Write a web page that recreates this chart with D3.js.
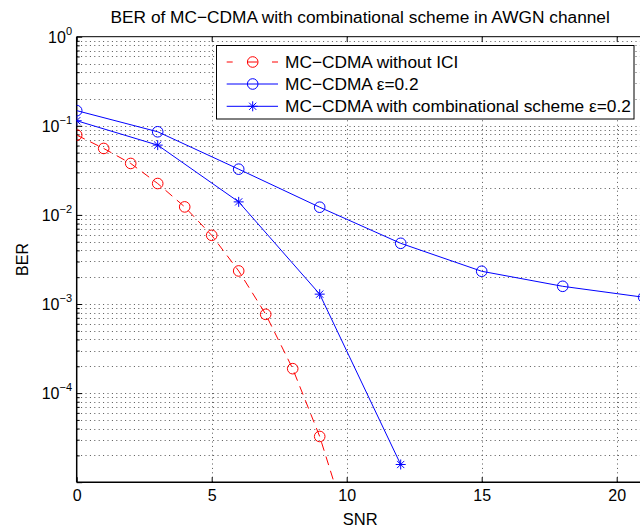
<!DOCTYPE html>
<html><head><meta charset="utf-8">
<script src="https://cdn.jsdelivr.net/npm/d3@7"></script>
<style>
html,body{margin:0;padding:0;background:#fff;}
svg{display:block;font-family:"Liberation Sans",Arial,Helvetica,sans-serif;}
</style></head>
<body>
<svg id="chart" width="640" height="531"></svg>
<script>
// ---- data ----
const titleText = "BER of MC\u2212CDMA with combinational scheme in AWGN channel";
const xLabel = "SNR";
const yLabel = "BER";
const seriesNames = ["MC\u2212CDMA without ICI", "MC\u2212CDMA \u03b5=0.2", "MC\u2212CDMA with combinational scheme \u03b5=0.2"];
const snrNoICI = [0,1,2,3,4,5,6,7,8,9,10];
const berNoICI = [0.0787,0.0557,0.0378,0.0225,0.0123,0.0059,0.00235,0.000766,0.000188,3.26e-5,3.5e-6];
const snrEps = [0,3,6,9,12,15,18,21];
const berEps = [0.148,0.0857,0.0326,0.0122,0.0048,0.00233,0.00158,0.00119];
const snrComb = [0,3,6,9,12];
const berComb = [0.114,0.0607,0.014,0.00129,1.58e-5];
const xTicks = [0,5,10,15,20];
const yTickExps = [0,-1,-2,-3,-4];

// ---- layout ----
const L = 76.7, T = 36.7, W = 567, H = 445.5;
const svg = d3.select("#chart");
const x = d3.scaleLinear().domain([0,21]).range([L, L+W]);
const y = d3.scaleLog().domain([1e-5,1]).range([T+H, T]);

svg.append("defs").append("clipPath").attr("id","clip")
  .append("rect").attr("x",L).attr("y",T).attr("width",W).attr("height",H);

// grid
const gridStyle = g => g.attr("stroke","#555").attr("stroke-width",1).attr("stroke-dasharray","1,3.4").attr("fill","none");
const minorVals = [];
for (let e=-5;e<0;e++) for (let m=1;m<10;m++) minorVals.push(m*Math.pow(10,e));
minorVals.push(1);
const grid = svg.append("g").call(gridStyle);
grid.selectAll("line.h").data(minorVals.filter(v=>v>1e-5 && v<1)).enter().append("line")
  .attr("x1",L).attr("x2",L+W).attr("y1",d=>Math.round(y(d))+0.5).attr("y2",d=>Math.round(y(d))+0.5);
grid.selectAll("line.v").data(xTicks.filter(v=>v>0)).enter().append("line")
  .attr("y1",T).attr("y2",T+H).attr("x1",d=>Math.round(x(d))+0.5).attr("x2",d=>Math.round(x(d))+0.5);

// axes
const xAxis = d3.axisBottom(x).tickValues(xTicks).tickSizeInner(-5).tickSizeOuter(0).tickPadding(10);
const gx = svg.append("g").attr("transform",`translate(0,${T+H})`).call(xAxis);
gx.select(".domain").remove();
gx.selectAll("text").attr("font-size",16).attr("font-family","Liberation Sans, Arial, sans-serif").attr("fill","#000").attr("dy","0.55em");
gx.selectAll("line").attr("stroke","#000");
const gxTop = svg.append("g").attr("transform",`translate(0,${T})`).call(d3.axisTop(x).tickValues(xTicks).tickSizeInner(-5).tickSizeOuter(0).tickFormat(""));
gxTop.select(".domain").remove();
gxTop.selectAll("line").attr("stroke","#000");

const gy = svg.append("g").attr("transform",`translate(${L},0)`)
  .call(d3.axisLeft(y).tickValues(minorVals).tickSizeInner(-3).tickSizeOuter(0).tickFormat(""));
gy.select(".domain").remove();
gy.selectAll(".tick line").attr("stroke","#000").attr("x2",d=>[1,0.1,0.01,0.001,1e-4,1e-5].some(v=>Math.abs(v-d)/v<1e-9)?5.5:3);

// y tick labels 10^e
const yl = svg.append("g");
yTickExps.forEach(e=>{
  const t = yl.append("text").attr("x",72).attr("y",y(Math.pow(10,e))+6)
    .attr("text-anchor","end").attr("font-size",16).attr("fill","#000");
  t.append("tspan").text("10");
  t.append("tspan").attr("dy",-8).attr("font-size",11).text(e===0?"0":"\u2212"+(-e));
});

// frame lines
svg.append("line").attr("x1",L).attr("x2",L).attr("y1",T).attr("y2",T+H).attr("stroke","#000").attr("stroke-width",1.5);
svg.append("line").attr("x1",L).attr("x2",L+W).attr("y1",T+H).attr("y2",T+H).attr("stroke","#000").attr("stroke-width",1.5);
svg.append("line").attr("x1",L).attr("x2",L+W).attr("y1",T).attr("y2",T).attr("stroke","#000").attr("stroke-width",1);

// series
const plot = svg.append("g").attr("clip-path","url(#clip)");
const line = d3.line().x(d=>x(d[0])).y(d=>y(d[1]));
const red = "#ff0000", blue = "#0000ff";
const dNo = snrNoICI.map((s,i)=>[s,berNoICI[i]]);
const dEps = snrEps.map((s,i)=>[s,berEps[i]]);
const dComb = snrComb.map((s,i)=>[s,berComb[i]]);

plot.append("path").datum(dNo).attr("d",line).attr("fill","none").attr("stroke",red).attr("stroke-width",1).attr("stroke-dasharray","9,6");
plot.append("path").datum(dEps).attr("d",line).attr("fill","none").attr("stroke",blue).attr("stroke-width",1);
plot.append("path").datum(dComb).attr("d",line).attr("fill","none").attr("stroke",blue).attr("stroke-width",1);

const starPath = (cx,cy,s=5) => `M${cx-s},${cy}L${cx+s},${cy}M${cx},${cy-s}L${cx},${cy+s}`+
  `M${cx-s*0.72},${cy-s*0.72}L${cx+s*0.72},${cy+s*0.72}M${cx-s*0.72},${cy+s*0.72}L${cx+s*0.72},${cy-s*0.72}`;
function circles(g,data,color){
  g.selectAll(null).data(data).enter().append("circle")
    .attr("cx",d=>x(d[0])).attr("cy",d=>y(d[1])).attr("r",5.3)
    .attr("fill","none").attr("stroke",color).attr("stroke-width",1);
}
function stars(g,data,color){
  g.selectAll(null).data(data).enter().append("path")
    .attr("d",d=>starPath(x(d[0]),y(d[1])))
    .attr("fill","none").attr("stroke",color).attr("stroke-width",1);
}
circles(plot,dNo,red);
circles(plot,dEps,blue);
stars(plot,dComb,blue);

// legend
const lg = svg.append("g");
lg.append("rect").attr("x",216.5).attr("y",45.5).attr("width",417.5).attr("height",73.5)
  .attr("fill","#fff").attr("stroke","#000").attr("stroke-width",1);
const rows = [62,84,106.3];
const lx1 = 226.7, lx2 = 278, lmx = 252.7;
lg.append("line").attr("x1",lx1).attr("x2",lx2).attr("y1",rows[0]).attr("y2",rows[0]).attr("stroke",red).attr("stroke-dasharray","6,14.5,10.3,14.5,6");
lg.append("circle").attr("cx",lmx).attr("cy",rows[0]).attr("r",5.3).attr("fill","none").attr("stroke",red);
lg.append("line").attr("x1",lx1).attr("x2",lx2).attr("y1",rows[1]).attr("y2",rows[1]).attr("stroke",blue);
lg.append("circle").attr("cx",lmx).attr("cy",rows[1]).attr("r",5.3).attr("fill","none").attr("stroke",blue);
lg.append("line").attr("x1",lx1).attr("x2",lx2).attr("y1",rows[2]).attr("y2",rows[2]).attr("stroke",blue);
lg.append("path").attr("d",starPath(lmx,rows[2])).attr("fill","none").attr("stroke",blue);
seriesNames.forEach((n,i)=>{
  lg.append("text").attr("x",285).attr("y",rows[i]+6).attr("font-size",17.3).attr("fill","#000").text(n);
});

// title & labels
svg.append("text").attr("x",L+W/2).attr("y",23).attr("text-anchor","middle").attr("font-size",17.3).attr("fill","#000").text(titleText);
svg.append("text").attr("x",L+W/2).attr("y",525).attr("text-anchor","middle").attr("font-size",16.5).attr("fill","#000").text(xLabel);
svg.append("text").attr("transform",`translate(28,${T+H/2}) rotate(-90)`).attr("text-anchor","middle").attr("font-size",16).attr("fill","#000").text(yLabel);
</script>
</body></html>
